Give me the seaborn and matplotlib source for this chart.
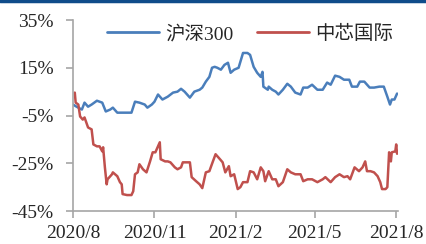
import matplotlib
matplotlib.use("Agg")
import matplotlib.pyplot as plt
import matplotlib.dates as mdates
from matplotlib.ticker import FuncFormatter, FixedLocator
from matplotlib.lines import Line2D
import pandas as pd
import seaborn as sns

# 沪深300 cumulative return (%)
hs300_dates = [
    "2020-08-01", "2020-08-05", "2020-08-11", "2020-08-14", "2020-08-18", "2020-08-22",
    "2020-08-28", "2020-09-03", "2020-09-07", "2020-09-12", "2020-09-15", "2020-09-20",
    "2020-10-01", "2020-10-06", "2020-10-10", "2020-10-15", "2020-10-21", "2020-10-24",
    "2020-10-29", "2020-11-01", "2020-11-05", "2020-11-10", "2020-11-16", "2020-11-22",
    "2020-11-27", "2020-12-01", "2020-12-05", "2020-12-11", "2020-12-16", "2020-12-22",
    "2020-12-25", "2020-12-29", "2021-01-02", "2021-01-05", "2021-01-08", "2021-01-11",
    "2021-01-15", "2021-01-19", "2021-01-23", "2021-01-26", "2021-01-30", "2021-02-04",
    "2021-02-09", "2021-02-14", "2021-02-17", "2021-02-21", "2021-02-25", "2021-03-01",
    "2021-03-03", "2021-03-04", "2021-03-09", "2021-03-10", "2021-03-14", "2021-03-18",
    "2021-03-21", "2021-03-26", "2021-03-31", "2021-04-04", "2021-04-09", "2021-04-15",
    "2021-04-18", "2021-04-23", "2021-04-28", "2021-05-04", "2021-05-10", "2021-05-15",
    "2021-05-19", "2021-05-24", "2021-05-29", "2021-06-03", "2021-06-09", "2021-06-12",
    "2021-06-18", "2021-06-21", "2021-06-26", "2021-07-02", "2021-07-07", "2021-07-13",
    "2021-07-18", "2021-07-22", "2021-07-25", "2021-07-27", "2021-07-30", "2021-08-02",
]
hs300_values = [
    -0.4, -1.3, -2.5, 0.4, -1.3, -0.4,
    1.2, 0.4, -3.3, -2.5, -1.7, -3.8,
    -3.8, -3.8, 0.8, 0.4, -0.4, -1.7,
    -0.4, 0.8, 3.8, 1.7, 2.9, 4.6,
    5.0, 6.2, 5.0, 2.5, 5.0, 5.8,
    6.7, 9.2, 11.2, 15.0, 15.4, 15.0,
    14.2, 16.2, 17.1, 12.9, 14.2, 15.0,
    21.2, 21.2, 20.4, 15.4, 12.9, 11.2,
    13.3, 7.1, 5.8, 7.1, 5.8, 5.0,
    3.8, 5.8, 8.3, 7.1, 4.6, 3.8,
    6.7, 6.7, 7.9, 5.8, 5.8, 8.8,
    7.9, 11.7, 11.2, 10.0, 10.0, 7.1,
    7.1, 9.2, 9.2, 6.7, 6.7, 7.1,
    7.1, 2.9, -0.4, 1.7, 1.7, 4.2,
]

# 中芯国际 cumulative return (%)
smic_dates = [
    "2020-08-03", "2020-08-04", "2020-08-07", "2020-08-09", "2020-08-12", "2020-08-14",
    "2020-08-18", "2020-08-22", "2020-08-24", "2020-08-28", "2020-08-31", "2020-09-03",
    "2020-09-04", "2020-09-06", "2020-09-08", "2020-09-09", "2020-09-14", "2020-09-15",
    "2020-09-20", "2020-09-23", "2020-09-25", "2020-09-26", "2020-10-01", "2020-10-06",
    "2020-10-08", "2020-10-10", "2020-10-13", "2020-10-15", "2020-10-19", "2020-10-23",
    "2020-10-27", "2020-10-30", "2020-11-02", "2020-11-07", "2020-11-08", "2020-11-13",
    "2020-11-16", "2020-11-19", "2020-11-24", "2020-11-27", "2020-12-01", "2020-12-03",
    "2020-12-11", "2020-12-13", "2020-12-18", "2020-12-22", "2020-12-25", "2020-12-29",
    "2021-01-02", "2021-01-06", "2021-01-09", "2021-01-14", "2021-01-17", "2021-01-20",
    "2021-01-24", "2021-01-26", "2021-01-30", "2021-02-03", "2021-02-06", "2021-02-09",
    "2021-02-14", "2021-02-17", "2021-02-21", "2021-02-25", "2021-03-01", "2021-03-04",
    "2021-03-06", "2021-03-10", "2021-03-14", "2021-03-18", "2021-03-21", "2021-03-26",
    "2021-03-31", "2021-04-04", "2021-04-09", "2021-04-15", "2021-04-18", "2021-04-23",
    "2021-04-28", "2021-05-04", "2021-05-10", "2021-05-13", "2021-05-19", "2021-05-24",
    "2021-05-29", "2021-06-03", "2021-06-07", "2021-06-10", "2021-06-15", "2021-06-20",
    "2021-06-24", "2021-06-27", "2021-06-29", "2021-07-03", "2021-07-07", "2021-07-11",
    "2021-07-14", "2021-07-16", "2021-07-20", "2021-07-22", "2021-07-24", "2021-07-26",
    "2021-07-27", "2021-07-31", "2021-08-01", "2021-08-02",
]
smic_values = [
    4.6, 0.4, -0.4, -5.4, -6.7, -5.8,
    -10.0, -10.8, -17.1, -17.9, -17.9, -20.0,
    -18.3, -26.7, -33.8, -31.7, -29.6, -28.8,
    -30.4, -32.9, -33.8, -37.9, -38.3, -38.3,
    -36.7, -29.6, -28.8, -25.4, -27.5, -28.8,
    -24.2, -20.4, -20.4, -16.2, -23.3, -24.2,
    -24.2, -24.6, -26.7, -27.5, -26.7, -24.6,
    -24.6, -30.8, -32.5, -33.8, -35.4, -28.8,
    -28.3, -24.2, -21.2, -23.3, -24.6, -28.8,
    -26.2, -30.4, -29.6, -35.8, -35.0, -32.9,
    -32.9, -28.3, -28.8, -31.7, -26.7, -28.3,
    -32.5, -28.3, -31.7, -31.7, -34.6, -32.9,
    -27.5, -28.8, -29.6, -29.6, -32.5, -31.7,
    -31.7, -32.9, -31.7, -30.8, -32.9, -30.8,
    -29.6, -30.8, -30.4, -31.7, -26.7, -28.3,
    -26.7, -24.2, -28.3, -28.3, -28.8, -30.4,
    -32.9, -35.8, -35.8, -35.0, -20.4, -24.2,
    -20.4, -20.0, -17.1, -21.0,
]

series_names = ["沪深300", "中芯国际"]
y_ticks = [-45, -25, -5, 15, 35]
x_ticks = ["2020-08-01", "2020-11-01", "2021-02-01", "2021-05-01", "2021-08-01"]

df = pd.concat([
    pd.DataFrame({"date": pd.to_datetime(hs300_dates), "ret": hs300_values, "name": series_names[0]}),
    pd.DataFrame({"date": pd.to_datetime(smic_dates), "ret": smic_values, "name": series_names[1]}),
])

sns.set_style("white")
plt.rcParams["font.family"] = ["Liberation Serif", "Noto Sans CJK SC"]

fig = plt.figure(figsize=(4.27, 2.44), dpi=100)
ax = fig.add_axes([0.171, 0.135, 0.761, 0.783])

sns.lineplot(data=df, x="date", y="ret", hue="name", hue_order=series_names,
             palette=["#4a7ebb", "#c0504d"], linewidth=1.8, ax=ax)

ax.set_ylim(-45, 35)
ax.set_xlim(pd.Timestamp("2020-08-01"), pd.Timestamp("2021-08-03"))
ax.yaxis.set_major_locator(FixedLocator(y_ticks))
ax.yaxis.set_major_formatter(FuncFormatter(lambda v, p: f"{v:.0f}%"))
ax.xaxis.set_major_locator(FixedLocator([mdates.date2num(pd.Timestamp(d)) for d in x_ticks]))
ax.xaxis.set_major_formatter(FuncFormatter(
    lambda v, p: f"{mdates.num2date(v).year}/{mdates.num2date(v).month}"))
ax.set_xlabel("")
ax.set_ylabel("")

for s in ["top", "right"]:
    ax.spines[s].set_visible(False)
for s in ["left", "bottom"]:
    ax.spines[s].set_color("#a6a6a6")
    ax.spines[s].set_linewidth(1.2)
ax.tick_params(axis="both", which="major", labelsize=14, length=5, width=1.2,
               color="#a6a6a6", direction="out", left=True, bottom=True)
ax.tick_params(axis="y", pad=9)
ax.tick_params(axis="x", pad=5)

leg = ax.legend(loc="upper center", bbox_to_anchor=(0.545, 1.065), ncol=2, frameon=False,
                fontsize=14, handlelength=2.7, handletextpad=0.3, columnspacing=1.2)
for line in leg.get_lines():
    line.set_linewidth(2.0)

# dark blue rule along the top edge
fig.add_artist(Line2D([0, 1], [0.996, 0.996], transform=fig.transFigure,
                      color="#0f4c8a", linewidth=2.5))

fig.savefig("out.png", dpi=100)
